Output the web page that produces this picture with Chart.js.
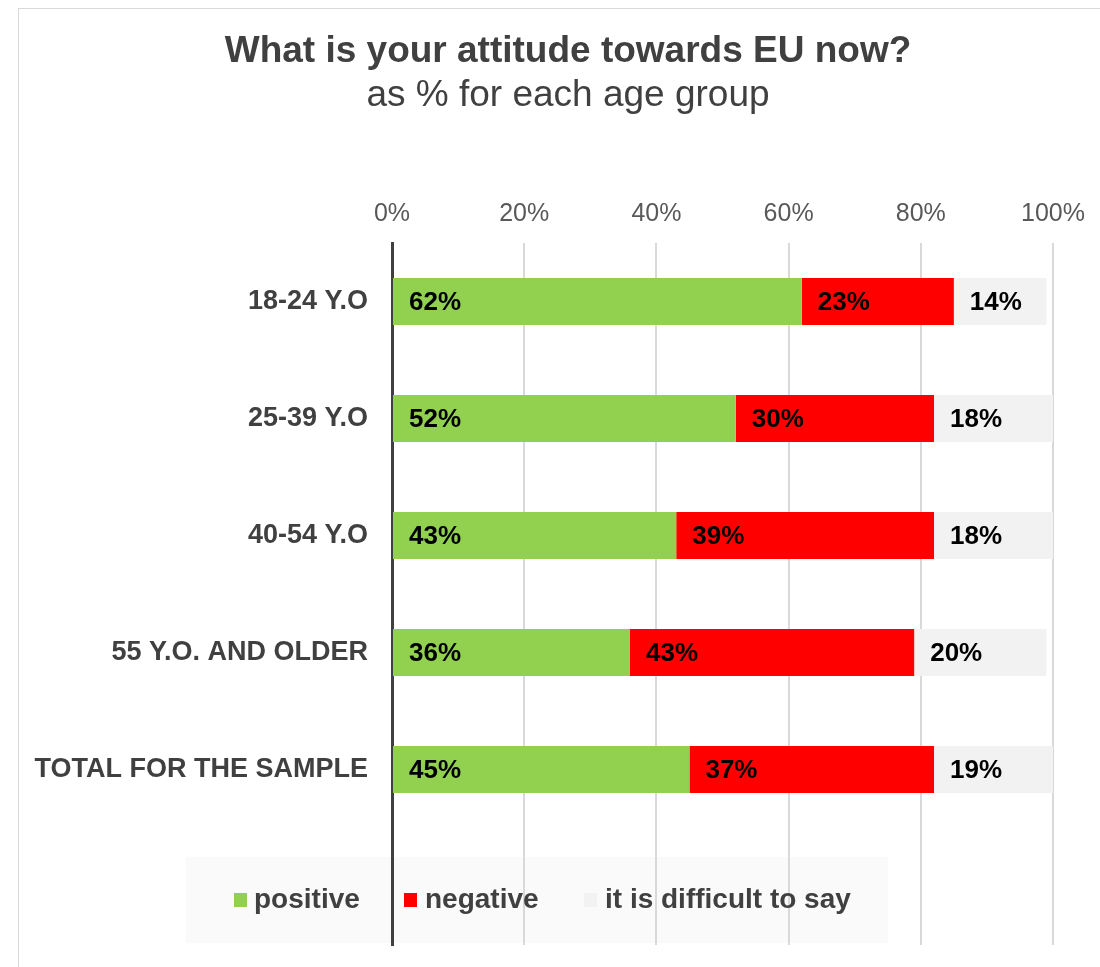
<!DOCTYPE html>
<html><head><meta charset="utf-8">
<script src="https://cdn.jsdelivr.net/npm/chart.js@4"></script>
<style>
html,body{margin:0;padding:0;background:#fff;}
#wrap{position:relative;width:1100px;height:967px;overflow:hidden;}
#frame{position:absolute;left:18px;top:8px;width:1200px;height:1200px;border:1.5px solid #d9d9d9;box-sizing:border-box;}
canvas{position:absolute;left:0;top:0;}
</style></head>
<body><div id="wrap"><div id="frame"></div><canvas id="c" width="1100" height="967"></canvas></div>
<script>
const categories = ["18-24 Y.O", "25-39 Y.O", "40-54 Y.O", "55 Y.O. AND OLDER", "TOTAL FOR THE SAMPLE", ""];
const positive = [62, 52, 43, 36, 45, null];
const negative = [23, 30, 39, 43, 37, null];
const difficult = [14, 18, 18, 20, 19, null];
const tickLabels = ["0%", "20%", "40%", "60%", "80%", "100%"];
const seriesNames = ["positive", "negative", "it is difficult to say"];
const colors = ["#92d050", "#ff0000", "#f2f2f2"];
const FONT = "'Liberation Sans', Arial, sans-serif";

const framePlugin = {
  id: 'frame',
  beforeDraw(chart) {
    const ctx = chart.ctx;
    ctx.save();
    ctx.fillStyle = '#fafafa';
    ctx.fillRect(186, 857, 702, 86);
    ctx.restore();
  },
  afterDraw(chart) {
    const ctx = chart.ctx;
    ctx.save();
    ctx.textAlign = 'center';
    ctx.textBaseline = 'middle';
    ctx.fillStyle = '#404040';
    ctx.font = "bold 37px " + FONT;
    ctx.fillText("What is your attitude towards EU now?", 568, 52);
    ctx.font = "37px " + FONT;
    ctx.fillText("as % for each age group", 568, 96);
    // data labels
    ctx.font = "bold 26px " + FONT;
    ctx.fillStyle = '#000';
    ctx.textAlign = 'left';
    chart.data.datasets.forEach((ds, i) => {
      const meta = chart.getDatasetMeta(i);
      meta.data.forEach((bar, j) => {
        const v = ds.data[j];
        if (v == null) return;
        const base = Math.min(bar.base, bar.x);
        ctx.fillText(v + '%', base + 16, bar.y + 1);
      });
    });
    // legend
    ctx.font = "bold 28px " + FONT;
    const xs = [[234, 254], [404, 425], [584, 605]];
    seriesNames.forEach((n, i) => {
      ctx.fillStyle = colors[i];
      ctx.fillRect(xs[i][0], 893, 13, 14);
      ctx.fillStyle = '#404040';
      ctx.fillText(n, xs[i][1], 900);
    });
    ctx.restore();
  }
};

new Chart(document.getElementById('c'), {
  type: 'bar',
  data: {
    labels: categories,
    datasets: seriesNames.map((n, i) => ({
      label: n,
      data: [positive, negative, difficult][i],
      backgroundColor: colors[i],
      borderWidth: 0,
      categoryPercentage: 1,
      barPercentage: 0.4
    }))
  },
  plugins: [framePlugin],
  options: {
    indexAxis: 'y',
    responsive: false,
    animation: false,
    events: [],
    layout: { padding: { top: 180, bottom: 22, right: 47, left: 0 } },
    plugins: { legend: { display: false }, title: { display: false }, tooltip: { enabled: false } },
    scales: {
      x: {
        position: 'top',
        stacked: true,
        min: 0, max: 100,
        afterFit(s) { s.height = 63; s.paddingLeft = 0; s.paddingRight = 0; },
        ticks: {
          stepSize: 20,
          padding: 14,
          color: '#595959',
          font: { family: FONT, size: 25 },
          callback: (v, i) => tickLabels[i]
        },
        grid: {
          drawTicks: false,
          lineWidth: 2,
          color: (c) => c.index === 0 ? 'rgba(0,0,0,0)' : '#d9d9d9'
        },
        border: { display: false }
      },
      y: {
        stacked: true,
        afterFit(s) { s.width = 392; s.paddingTop = 0; s.paddingBottom = 0; },
        ticks: {
          padding: 24,
          color: '#404040',
          font: { family: FONT, size: 27, weight: 'bold' }
        },
        grid: { display: false, drawTicks: false },
        border: { display: true, color: '#404040', width: 3 }
      }
    }
  }
});
</script></body></html>
